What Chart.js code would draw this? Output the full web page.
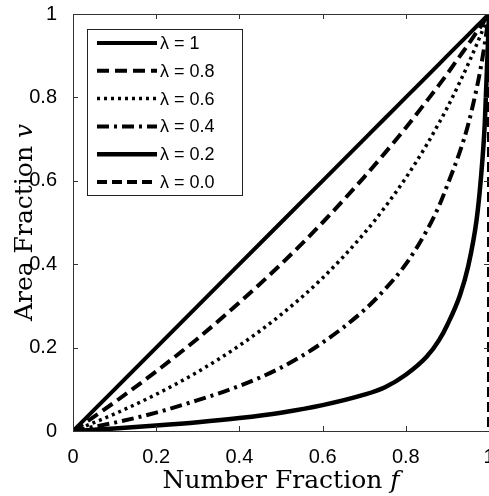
<!DOCTYPE html>
<html>
<head>
<meta charset="utf-8">
<script src="https://cdn.jsdelivr.net/npm/chart.js@4.4.1/dist/chart.umd.min.js"></script>
<style>
html, body { margin: 0; padding: 0; background: #fff; }
#wrap { width: 489px; height: 496px; }
</style>
</head>
<body>
<div id="wrap"><canvas id="myChart"></canvas></div>
<script>
// number fraction f (x) and area fraction v (y)
const numberFraction = [0, 0.05, 0.1, 0.2, 0.3, 0.4, 0.5, 0.6, 0.7, 0.75, 0.8, 0.85, 0.88, 0.9, 0.93, 0.95, 0.97, 0.98, 0.99, 1];
const areaLambda10 = [0, 0.05, 0.1, 0.2, 0.3, 0.4, 0.5, 0.6, 0.7, 0.75, 0.8, 0.85, 0.88, 0.9, 0.93, 0.95, 0.97, 0.98, 0.99, 1];
const areaLambda08 = [0, 0.034, 0.069, 0.143, 0.222, 0.308, 0.4, 0.5, 0.609, 0.667, 0.727, 0.791, 0.83, 0.857, 0.899, 0.927, 0.956, 0.97, 0.985, 1];
const areaLambda06 = [0, 0.02, 0.041, 0.088, 0.142, 0.205, 0.279, 0.367, 0.474, 0.537, 0.607, 0.686, 0.739, 0.776, 0.837, 0.88, 0.926, 0.95, 0.975, 1];
const areaLambda04 = [0, 0.01, 0.02, 0.044, 0.074, 0.108, 0.152, 0.212, 0.29, 0.34, 0.4, 0.48, 0.54, 0.59, 0.67, 0.735, 0.82, 0.87, 0.93, 1];
const areaLambda02 = [0, 0.003, 0.006, 0.013, 0.021, 0.031, 0.044, 0.062, 0.087, 0.105, 0.135, 0.178, 0.218, 0.255, 0.325, 0.395, 0.505, 0.6, 0.74, 1];
const lambda00Fraction = [0, 1, 1];
const areaLambda00 = [0, 0, 1];

const seriesLabels = ["λ = 1", "λ = 0.8", "λ = 0.6", "λ = 0.4", "λ = 0.2", "λ = 0.0"];
const tickValues = [0, 0.2, 0.4, 0.6, 0.8, 1];
const tickLabels = ["0", "0.2", "0.4", "0.6", "0.8", "1"];

function pairUp(xs, ys) {
    return xs.map((x, i) => ({ x: x, y: ys[i] }));
}

function lineSet(label, xs, ys, dash, width) {
    return {
        label: label,
        data: pairUp(xs, ys),
        borderColor: "#000",
        borderWidth: width,
        borderDash: dash,
        borderCapStyle: "butt",
        pointRadius: 0,
        fill: false,
        cubicInterpolationMode: "monotone"
    };
}

const datasets = [
    lineSet(seriesLabels[0], numberFraction, areaLambda10, [], 4),
    lineSet(seriesLabels[1], numberFraction, areaLambda08, [12, 6], 4),
    lineSet(seriesLabels[2], numberFraction, areaLambda06, [3, 4], 3.5),
    lineSet(seriesLabels[3], numberFraction, areaLambda04, [12, 5, 3, 5], 4),
    lineSet(seriesLabels[4], numberFraction, areaLambda02, [], 4.5),
    lineSet(seriesLabels[5], lambda00Fraction, areaLambda00, [10, 5], 4)
];
datasets[5].cubicInterpolationMode = "default";
datasets[5].tension = 0;
// the f = 1 edge shows only half of this line; the v = 0 part hides under the axis
datasets[5].clip = { left: 0, top: 0, right: 0, bottom: -2 };

const tickFont = { family: "Liberation Sans", size: 20 };

// frame, inward ticks, legend box and axis titles
const framePlugin = {
    id: "frame",
    afterDatasetsDraw(chart) {
        const ctx = chart.ctx;
        const a = chart.chartArea;
        const xs = chart.scales.x;
        const ys = chart.scales.y;
        ctx.save();
        ctx.strokeStyle = "#333";
        ctx.lineWidth = 1;
        ctx.setLineDash([]);
        ctx.strokeRect(a.left + 0.5, a.top + 0.5, a.right - a.left, a.bottom - a.top);
        ctx.beginPath();
        tickValues.forEach(v => {
            const px = Math.round(xs.getPixelForValue(v)) + 0.5;
            ctx.moveTo(px, a.bottom); ctx.lineTo(px, a.bottom - 5);
            ctx.moveTo(px, a.top); ctx.lineTo(px, a.top + 5);
            const py = Math.round(ys.getPixelForValue(v)) + 0.5;
            ctx.moveTo(a.left, py); ctx.lineTo(a.left + 5, py);
            ctx.moveTo(a.right, py); ctx.lineTo(a.right - 5, py);
        });
        ctx.stroke();

        // legend
        const bx = a.left + 14, by = a.top + 15, bw = 155, bh = 166;
        ctx.fillStyle = "#fff";
        ctx.fillRect(bx, by, bw, bh);
        ctx.strokeStyle = "#222";
        ctx.strokeRect(bx + 0.5, by + 0.5, bw, bh);
        ctx.font = "18px 'Liberation Sans'";
        ctx.textBaseline = "middle";
        chart.data.datasets.forEach((ds, i) => {
            const y = by + 14 + i * 27.8;
            ctx.strokeStyle = "#000";
            ctx.lineWidth = ds.borderWidth;
            ctx.setLineDash(ds.borderDash);
            ctx.beginPath();
            ctx.moveTo(bx + 10, y);
            ctx.lineTo(bx + 70, y);
            ctx.stroke();
            ctx.fillStyle = "#000";
            ctx.fillText(ds.label, bx + 73, y + 1);
        });
        ctx.setLineDash([]);

        // axis titles
        const regular = "25px 'DejaVu Serif'";
        const italic = "italic 25px 'DejaVu Serif'";
        function mixed(text, sym, cx, cy) {
            ctx.font = regular;
            const w1 = ctx.measureText(text).width;
            ctx.font = italic;
            const w2 = ctx.measureText(sym).width;
            const start = cx - (w1 + w2) / 2;
            ctx.textAlign = "left";
            ctx.textBaseline = "alphabetic";
            ctx.font = regular;
            ctx.fillText(text, start, cy);
            ctx.font = italic;
            ctx.fillText(sym, start + w1, cy);
        }
        ctx.fillStyle = "#000";
        mixed("Number Fraction ", "f", (a.left + a.right) / 2, 488);
        ctx.translate(32, (a.top + a.bottom) / 2);
        ctx.rotate(-Math.PI / 2);
        mixed("Area Fraction ", "v", 0, 0);
        ctx.restore();
    }
};

function fixTicks(scale) {
    scale.ticks = tickValues.map(v => ({ value: v }));
}

new Chart(document.getElementById("myChart"), {
    type: "line",
    data: { datasets: datasets },
    plugins: [framePlugin],
    options: {
        responsive: true,
        maintainAspectRatio: false,
        animation: false,
        layout: { padding: { top: 14, right: 0, left: 0, bottom: 0 } },
        plugins: {
            legend: { display: false },
            tooltip: { enabled: false }
        },
        scales: {
            x: {
                type: "linear",
                min: 0,
                max: 1,
                afterBuildTicks: fixTicks,
                afterFit: s => { s.height = 65; s.paddingLeft = 0; s.paddingRight = 0; },
                grid: { display: false },
                border: { display: false },
                ticks: {
                    color: "#000",
                    font: tickFont,
                    padding: 6,
                    maxRotation: 0,
                    callback: v => tickLabels[tickValues.indexOf(v)]
                }
            },
            y: {
                type: "linear",
                min: 0,
                max: 1,
                afterBuildTicks: fixTicks,
                afterFit: s => { s.width = 73; s.paddingTop = 0; s.paddingBottom = 0; },
                grid: { display: false },
                border: { display: false },
                ticks: {
                    color: "#000",
                    font: tickFont,
                    padding: 8,
                    callback: v => tickLabels[tickValues.indexOf(v)]
                }
            }
        }
    }
});
</script>
</body>
</html>
